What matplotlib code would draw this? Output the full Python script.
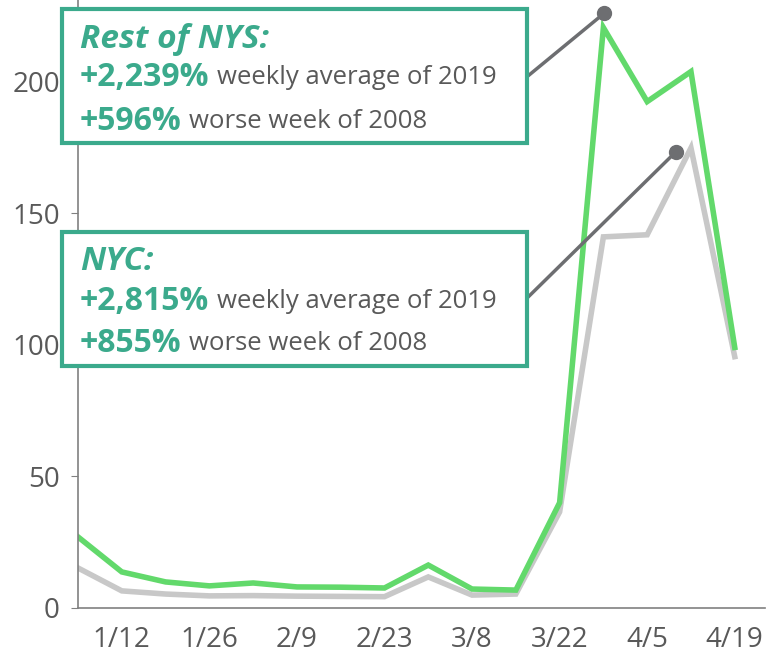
import matplotlib
matplotlib.use("Agg")
import matplotlib.pyplot as plt
from matplotlib.patches import Rectangle

plt.rcParams["font.family"] = ["Open Sans", "DejaVu Sans"]

weeks = ["1/5", "1/12", "1/19", "1/26", "2/2", "2/9", "2/16", "2/23",
         "3/1", "3/8", "3/15", "3/22", "3/29", "4/5", "4/12", "4/19"]
rest_nys = [27, 13.7, 9.9, 8.4, 9.5, 8.0, 7.9, 7.6,
            16.3, 7.2, 6.8, 40, 220.5, 192.4, 203.8, 99]
nyc = [15.2, 6.5, 5.3, 4.6, 4.7, 4.5, 4.4, 4.3,
       11.8, 4.9, 5.3, 36.5, 141, 141.8, 174.8, 95.5]
tick_labels = ["1/12", "1/26", "2/9", "2/23", "3/8", "3/22", "4/5", "4/19"]
yticks = [0, 50, 100, 150, 200]

green = "#62D96B"
grey_line = "#C8C8C8"
teal = "#3BAA8C"
dark = "#6D6E71"
txt = "#595959"

fig = plt.figure(figsize=(7.68, 6.57), dpi=100)
ax = fig.add_axes([0.1016, 0.0746, 0.895, 0.9254])
x = list(range(len(weeks)))
ax.plot(x, nyc, color=grey_line, lw=4, solid_joinstyle="miter")
ax.plot(x, rest_nys, color=green, lw=4, solid_joinstyle="miter")
ax.set_xlim(0, 15.7)
ax.set_ylim(0, 231)
ax.set_xticks([weeks.index(t) for t in tick_labels])
ax.set_xticklabels(tick_labels)
ax.set_yticks(yticks)
for s in ["top", "right"]:
    ax.spines[s].set_visible(False)
for s in ["left", "bottom"]:
    ax.spines[s].set_color("#808080")
    ax.spines[s].set_linewidth(1.2)
ax.tick_params(axis="x", length=0, pad=13, labelsize=20, labelcolor=txt)
ax.tick_params(axis="y", length=5, color="#808080", pad=8, labelsize=20, labelcolor=txt)

# callout leader lines with dots
ax.annotate("", xy=(12.02, 226), xytext=(0.686, 0.883), textcoords="figure fraction",
            arrowprops=dict(arrowstyle="-", color=dark, lw=2.5, shrinkA=0, shrinkB=0),
            annotation_clip=False)
ax.plot([12.02], [226], "o", color=dark, ms=10, clip_on=False, zorder=5)
ax.annotate("", xy=(13.66, 173.4), xytext=(0.686, 0.546), textcoords="figure fraction",
            arrowprops=dict(arrowstyle="-", color=dark, lw=2.5, shrinkA=0, shrinkB=0),
            annotation_clip=False)
ax.plot([13.66], [173.4], "o", color=dark, ms=10, clip_on=False, zorder=5)


def box(y_top_px, title, lines):
    W, H = 768, 657
    x0, x1 = 62, 527
    y1 = y_top_px + 134
    rect = Rectangle((x0 / W, 1 - y1 / H), (x1 - x0) / W, (y1 - y_top_px) / H,
                     transform=fig.transFigure, facecolor="white", edgecolor=teal,
                     lw=3, zorder=10)
    fig.patches.append(rect)
    fig.text(80 / W, 1 - (y_top_px + 30) / H, title, color=teal, fontsize=24,
             fontweight="bold", fontstyle="italic", va="center", zorder=11)
    r = fig.canvas.get_renderer()
    for i, (b, n) in enumerate(lines):
        yy = 1 - (y_top_px + 69 + i * 43) / H
        t = fig.text(80 / W, yy, b, color=teal, fontsize=23, fontweight="bold",
                     va="center", zorder=11)
        bb = t.get_window_extent(renderer=r)
        fig.text(bb.x1 / W + 0.01, yy, n, color=txt, fontsize=18.5,
                 va="center", zorder=11)


box(9, "Rest of NYS:", [("+2,239%", "weekly average of 2019"),
                        ("+596%", "worse week of 2008")])
box(232, "NYC:", [("+2,815%", "weekly average of 2019"),
                  ("+855%", "worse week of 2008")])

fig.savefig("out.png", dpi=100)
